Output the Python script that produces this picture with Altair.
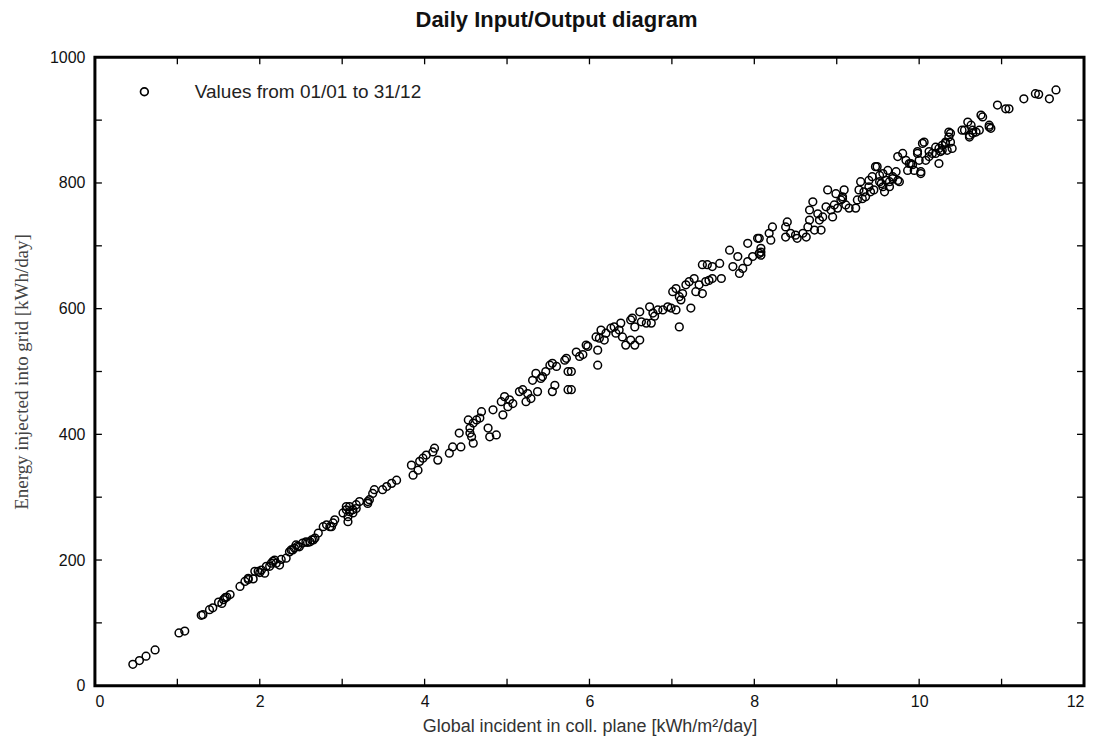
import altair as alt
import pandas as pd

chart_title = "Daily Input/Output diagram"
series_label = "Values from 01/01 to 31/12"
x_title = "Global incident in coll. plane [kWh/m²/day]"
y_title = "Energy injected into grid [kWh/day]"

# Global incident in collector plane [kWh/m2/day]
incident = [
    0.46, 0.54, 0.62, 0.73, 1.02, 1.09, 1.29, 1.31, 1.39, 1.43, 1.54, 1.56, 1.58, 1.64,
    1.76, 1.82, 1.86, 1.92, 1.98, 2.02, 2.06, 2.12, 2.16, 2.20, 2.24, 2.32, 2.36, 2.40,
    2.44, 2.48, 2.52, 2.61, 2.65, 2.71, 2.77, 2.81, 2.87, 2.91,
    1.86, 1.94, 2.08, 2.14, 2.18, 2.38, 2.42, 2.56, 2.63, 2.67, 2.85, 2.89, 3.01, 3.05,
    3.09, 3.13, 3.07, 3.17, 3.31, 1.50, 1.60, 2.00, 2.26, 2.46, 2.58,
    3.05, 3.09, 3.13, 3.07, 3.17, 3.21, 3.31, 3.33, 3.39, 3.37, 3.49, 3.54, 3.60, 3.66,
    3.84, 3.86, 3.92, 3.94, 3.98, 4.02, 4.10, 4.12, 4.16, 4.30, 4.34, 4.44, 4.42, 4.53,
    4.55, 4.57, 4.59, 4.59, 4.63, 4.67, 4.69, 4.55, 4.77, 4.79, 4.87, 4.83, 4.95, 4.93,
    4.97, 5.03, 5.07, 5.01, 5.15, 5.19, 5.25, 5.23, 5.29, 5.31, 5.35, 5.37, 5.41, 5.47,
    5.52, 5.55, 5.60, 5.58, 5.55, 5.70, 5.74, 5.74,
    5.43, 5.72, 5.78, 5.78, 5.84, 5.88, 5.92, 5.98, 5.96, 6.10, 6.10, 6.08, 6.14, 6.12,
    6.18, 6.20, 6.26, 6.30, 6.36, 6.32, 6.38, 6.40, 6.44, 6.50, 6.55, 6.61, 6.50, 6.52,
    6.55, 6.61, 6.63, 6.69, 6.75, 6.77, 6.73, 6.79, 6.83, 6.89, 6.95, 6.99, 7.05, 7.09,
    7.01, 7.05, 7.09, 7.11, 7.13, 7.17, 7.21, 7.23, 7.27, 7.29, 7.37, 7.33, 7.41, 7.45,
    7.49, 7.37, 7.43, 7.49, 7.58, 7.60, 7.70, 7.74, 7.80, 7.82, 7.86, 7.92, 7.92, 7.98,
    8.06, 8.08, 8.04,
    8.08, 8.08, 8.06, 8.22, 8.18, 8.20, 8.38, 8.40, 8.38, 8.44, 8.50, 8.52, 8.59, 8.63,
    8.65, 8.67, 8.67, 8.71, 8.73, 8.77, 8.79, 8.81, 8.83, 8.87, 8.89, 8.93, 8.95, 8.97,
    8.99, 9.01, 9.05, 9.09, 9.07, 9.11, 9.15, 9.23, 9.25, 9.27, 9.29, 9.33, 9.35, 9.39,
    9.43, 9.47, 9.45, 9.52, 9.54, 9.58, 9.60, 9.62, 9.64, 9.68, 9.72, 9.76, 9.74, 9.80,
    9.84, 9.86, 9.90, 9.94, 9.98, 10.02, 10.04, 10.08, 10.12, 10.16, 10.20, 10.24, 10.28,
    10.32, 10.36, 10.38, 10.40, 10.52, 10.61, 10.65, 10.73, 10.85,
    10.36, 10.38, 10.34, 10.24, 10.20, 10.12, 10.06, 10.00, 9.98, 10.02, 9.92, 9.88, 9.49,
    9.56, 9.68, 9.64, 9.52, 9.74, 9.39, 9.31, 9.41, 9.56, 9.07,
    11.66, 11.58, 11.41, 11.45, 11.27, 10.95, 11.05, 11.09, 10.75, 10.77, 10.85, 10.87,
    10.59, 10.63, 10.55, 10.69, 10.61, 10.65, 10.32, 10.28, 10.26,
]

# Energy injected into grid [kWh/day]
energy = [
    34, 40, 47, 57, 84, 87, 112, 113, 121, 124, 131, 137, 140, 145,
    158, 166, 169, 170, 182, 184, 179, 190, 198, 195, 192, 203, 213, 216,
    224, 221, 227, 229, 232, 243, 253, 256, 253, 264,
    171, 182, 190, 195, 200, 216, 219, 229, 232, 235, 253, 259, 275, 280,
    285, 275, 261, 288, 293, 133, 141, 180, 201, 222, 228,
    285, 277, 280, 269, 282, 293, 290, 296, 312, 306, 312, 317, 322, 327,
    351, 335, 343, 357, 362, 367, 372, 378, 359, 370, 380, 380, 402, 423,
    410, 396, 386, 418, 423, 426, 436, 402, 410, 396, 399, 439, 431, 452,
    460, 455, 449, 444, 468, 471, 465, 452, 457, 486, 497, 468, 489, 500,
    510, 513, 508, 478, 468, 518, 500, 471,
    492, 521, 500, 471, 531, 524, 527, 540, 542, 534, 510, 555, 566, 553,
    550, 561, 569, 571, 566, 561, 577, 555, 542, 550, 542, 550, 582, 585,
    571, 595, 579, 577, 577, 593, 603, 588, 598, 598, 603, 601, 598, 571,
    627, 632, 619, 614, 624, 638, 643, 601, 648, 627, 624, 638, 643, 645,
    648, 670, 670, 667, 672, 648, 693, 667, 683, 656, 664, 675, 704, 683,
    688, 696, 712,
    690, 685, 712, 730, 720, 709, 730, 738, 714, 720, 717, 712, 720, 714,
    730, 741, 757, 770, 725, 751, 741, 725, 746, 762, 789, 757, 746, 765,
    783, 760, 773, 789, 778, 765, 760, 760, 773, 789, 802, 786, 778, 794,
    810, 826, 789, 812, 799, 786, 804, 820, 794, 807, 818, 802, 842, 847,
    836, 820, 831, 820, 847, 815, 863, 836, 842, 847, 857, 831, 852,
    863, 873, 879, 855, 884, 876, 884, 884, 889,
    881, 865, 852, 855, 847, 850, 865, 836, 850, 818, 829, 831, 826,
    815, 810, 802, 802, 804, 804, 775, 786, 794, 775,
    948, 934, 942, 941, 934, 924, 918, 918, 908, 905, 892, 887,
    897, 892, 884, 881, 873, 879, 865, 860, 850,
]

x_ticks = list(range(0, 13))
y_ticks = list(range(0, 1001, 100))

W, H = 990, 629
TICK = 7

df = pd.DataFrame({"x": incident, "y": energy, "s": series_label})
xt = pd.DataFrame({"x": x_ticks})
yt = pd.DataFrame({"y": y_ticks})

xs = alt.Scale(domain=[0, 12], nice=False, zero=False)
ys = alt.Scale(domain=[0, 1000], nice=False, zero=False)

x_axis = alt.Axis(
    values=x_ticks, format="d",
    labelExpr="datum.value % 2 == 0 ? datum.label : ''",
    ticks=False, tickSize=0, domain=False, grid=False,
    labelPadding=8, titlePadding=8,
    labelFont="Liberation Sans", labelFontSize=16, labelColor="#111",
    titleFont="Liberation Sans", titleFontSize=18, titleFontWeight="normal", titleColor="#333",
)
y_axis = alt.Axis(
    values=y_ticks, format="d",
    labelExpr="datum.value % 200 == 0 ? datum.label : ''",
    ticks=False, tickSize=0, domain=False, grid=False,
    labelPadding=10, titlePadding=18,
    labelFont="Liberation Sans", labelFontSize=16, labelColor="#111",
    titleFont="Liberation Serif", titleFontSize=19, titleFontWeight="normal", titleColor="#444",
)

points = alt.Chart(df).mark_point(
    shape="circle", filled=False, size=60, strokeWidth=1.5, opacity=1
).encode(
    x=alt.X("x:Q", scale=xs, axis=x_axis, title=x_title),
    y=alt.Y("y:Q", scale=ys, axis=y_axis, title=y_title),
    color=alt.Color(
        "s:N",
        scale=alt.Scale(range=["#000000"]),
        legend=alt.Legend(
            title=None, orient="none", legendX=40, legendY=25, padding=0,
            labelOffset=41, labelLimit=600,
            labelFont="Liberation Sans", labelFontSize=19, labelColor="#222",
            symbolType="circle", symbolSize=60, symbolStrokeWidth=1.7,
            symbolFillColor="transparent",
        ),
    ),
)

tick_style = dict(color="black", strokeWidth=1.3)
bottom_ticks = alt.Chart(xt).mark_rule(**tick_style).encode(
    x=alt.X("x:Q", scale=xs, title=x_title), y=alt.value(H), y2=alt.value(H - TICK))
top_ticks = alt.Chart(xt).mark_rule(**tick_style).encode(
    x=alt.X("x:Q", scale=xs, title=x_title), y=alt.value(0), y2=alt.value(TICK))
left_ticks = alt.Chart(yt).mark_rule(**tick_style).encode(
    y=alt.Y("y:Q", scale=ys, title=y_title), x=alt.value(0), x2=alt.value(TICK))
right_ticks = alt.Chart(yt).mark_rule(**tick_style).encode(
    y=alt.Y("y:Q", scale=ys, title=y_title), x=alt.value(W), x2=alt.value(W - TICK))

chart = alt.layer(bottom_ticks, top_ticks, left_ticks, right_ticks, points).properties(
    width=W, height=H,
    autosize=alt.AutoSizeParams(type="none"),
    padding={"left": 87, "top": 49, "right": 10, "bottom": 56},
    title=alt.TitleParams(
        chart_title, font="Liberation Sans", fontSize=22, fontWeight="bold",
        color="#111", anchor="middle", dx=-33, offset=17,
    ),
).configure(
    background="white"
).configure_view(
    stroke="black", strokeWidth=3
)

chart.save("out.html", embed_options={"renderer": "svg", "actions": False})
